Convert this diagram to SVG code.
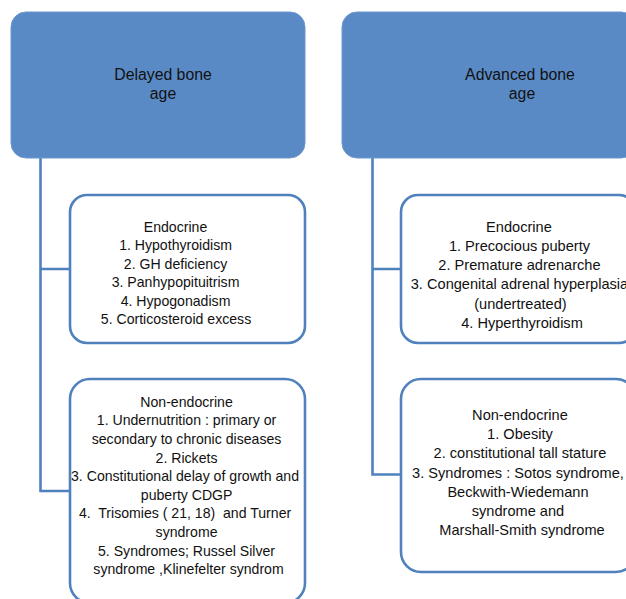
<svg xmlns="http://www.w3.org/2000/svg" width="626" height="599" viewBox="0 0 626 599">
<style>
.top{fill:#5a8ac6;stroke:#6b97cf;stroke-width:1}
.box{fill:#ffffff;stroke:#4f81bd;stroke-width:2.6}
.conn{fill:none;stroke:#4f81bd;stroke-width:2.6}
text{font-family:"Liberation Sans",Arial,sans-serif;fill:#111;text-anchor:middle}
.t16{font-size:15.8px}
.t14{font-size:14.1px}
.t146{font-size:14.6px}
.pre{white-space:pre}
</style>
<rect width="626" height="599" fill="#ffffff"/>
<g id="connectors">
<path class="conn" d="M40.5,158 V491 H70 M40.5,269 H70"/>
<path class="conn" d="M372.5,158 V474.5 H401 M372.5,269 H401"/>
</g>
<g id="delayed">
<rect class="top" x="11" y="12" width="294" height="146" rx="15"/>
<text class="t16" x="163"><tspan x="163" y="80">Delayed bone</tspan><tspan x="163" y="99">age</tspan></text>
</g>
<g id="advanced">
<rect class="top" x="342" y="12" width="294" height="146" rx="15"/>
<text class="t16" x="521"><tspan x="520" y="80">Advanced bone</tspan><tspan x="522" y="99">age</tspan></text>
</g>
<g id="delayed-endocrine">
<rect class="box" x="70" y="195" width="235" height="148" rx="17"/>
<text class="t14">
<tspan x="177.5" y="231.5">Endocrine</tspan>
<tspan x="177.5" y="250">1. Hypothyroidism</tspan>
<tspan x="177.5" y="268.5">2. GH deficiency</tspan>
<tspan x="177.5" y="287">3. Panhypopituitrism</tspan>
<tspan x="177.5" y="305.5">4. Hypogonadism</tspan>
<tspan x="176" y="324">5. Corticosteroid excess</tspan>
</text>
</g>
<g id="delayed-nonendocrine">
<rect class="box" x="70" y="379" width="235" height="224" rx="20"/>
<text class="t14">
<tspan x="188.5" y="406.7">Non-endocrine</tspan>
<tspan x="188.5" y="425.3">1. Undernutrition : primary or</tspan>
<tspan x="188.5" y="443.9">secondary to chronic diseases</tspan>
<tspan x="188.5" y="462.5">2. Rickets</tspan>
<tspan x="187" y="481.1">3. Constitutional delay of growth and</tspan>
<tspan x="188.5" y="499.7">puberty CDGP</tspan>
<tspan class="pre" x="187" y="518.3">4.  Trisomies ( 21, 18)  and Turner</tspan>
<tspan x="188.5" y="536.9">syndrome</tspan>
<tspan x="188.5" y="555.5">5. Syndromes; Russel Silver</tspan>
<tspan x="188.5" y="574.1">syndrome ,Klinefelter syndrom</tspan>
</text>
</g>
<g id="advanced-endocrine">
<rect class="box" x="401" y="195" width="235" height="148" rx="17"/>
<text class="t146">
<tspan x="521" y="231.7">Endocrine</tspan>
<tspan x="521.5" y="250.9">1. Precocious puberty</tspan>
<tspan x="521.5" y="270.1">2. Premature adrenarche</tspan>
<tspan x="521.5" y="289.3">3. Congenital adrenal hyperplasia</tspan>
<tspan x="522.5" y="308.5">(undertreated)</tspan>
<tspan x="522" y="327.7">4. Hyperthyroidism</tspan>
</text>
</g>
<g id="advanced-nonendocrine">
<rect class="box" x="401" y="379" width="235" height="193" rx="20"/>
<text class="t146">
<tspan x="522" y="420">Non-endocrine</tspan>
<tspan x="522" y="439.2">1. Obesity</tspan>
<tspan x="522" y="458.4">2. constitutional tall stature</tspan>
<tspan x="520" y="477.6">3. Syndromes : Sotos syndrome,</tspan>
<tspan x="520" y="496.8">Beckwith-Wiedemann</tspan>
<tspan x="520" y="516">syndrome and</tspan>
<tspan x="522" y="535.2">Marshall-Smith syndrome</tspan>
</text>
</g>
</svg>
